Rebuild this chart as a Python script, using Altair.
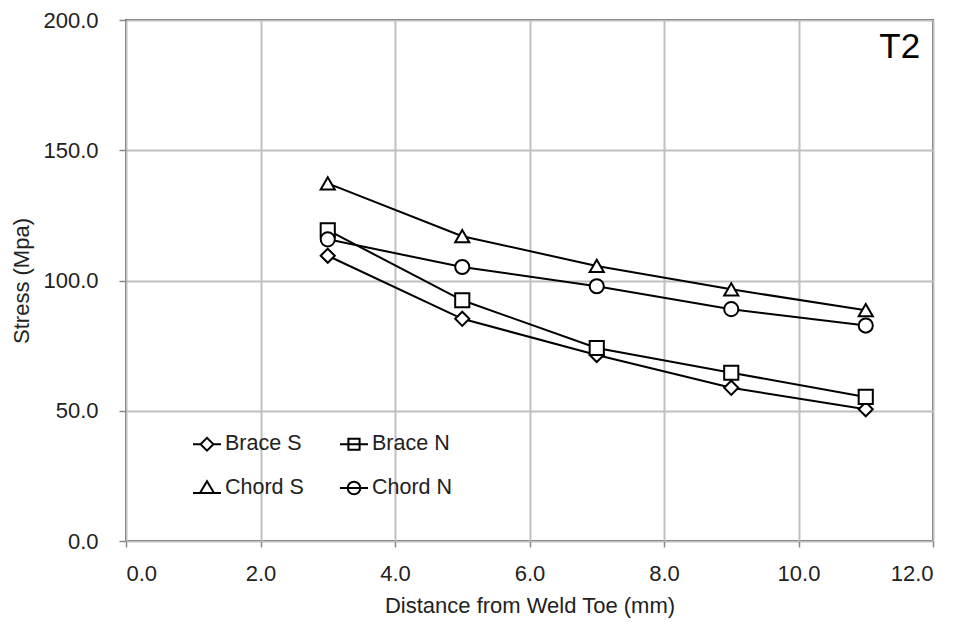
import altair as alt
import pandas as pd

distance = [3, 5, 7, 9, 11]
series_names = ["Brace S", "Brace N", "Chord S", "Chord N"]
brace_s = [109.5, 85.3, 71.4, 58.8, 50.6]
brace_n = [119.3, 92.4, 74.1, 64.6, 55.3]
chord_s = [137.3, 117.0, 105.6, 96.6, 88.6]
chord_n = [115.8, 105.2, 97.8, 89.0, 82.7]

x_ticks = [0, 2, 4, 6, 8, 10, 12]
y_ticks = [0, 50, 100, 150, 200]

values = {"Brace S": brace_s, "Brace N": brace_n, "Chord S": chord_s, "Chord N": chord_n}
rows = []
for name in series_names:
    for d, v in zip(distance, values[name]):
        rows.append({"distance": d, "stress": v, "series": name})
df = pd.DataFrame(rows)

FONT = "Liberation Sans"

plot_shapes = ["diamond", "square", "triangle-up", "circle"]
legend_shapes = [
    "M -1 0 L -0.46 0 M 0.46 0 L 1 0 M -0.46 0 L 0 -0.46 L 0.46 0 L 0 0.46 Z",
    "M -1 0 L 1 0 M -0.4 -0.4 L 0.4 -0.4 L 0.4 0.4 L -0.4 0.4 Z",
    "M -1 0.36 L 1 0.36 M 0 -0.48 L 0.5 0.36 L -0.5 0.36 Z",
    "M -1 0 L 1 0 M 0.45 0 A 0.45 0.45 0 1 1 -0.45 0 A 0.45 0.45 0 1 1 0.45 0 Z",
]

xs = alt.Scale(domain=[0, 12], nice=False)
ys = alt.Scale(domain=[0, 200], nice=False)

x_enc = alt.X("distance:Q", scale=xs, title="Distance from Weld Toe (mm)",
              axis=alt.Axis(values=x_ticks, format=".1f"))
y_enc = alt.Y("stress:Q", scale=ys, title="Stress (Mpa)",
              axis=alt.Axis(values=y_ticks, format=".1f"))

base = alt.Chart(df)

lines = base.mark_line(color="black", strokeWidth=2).encode(
    x=x_enc, y=y_enc, detail="series:N"
)

points = base.mark_point(filled=True, fill="white", stroke="black", strokeWidth=2, size=200, opacity=1).encode(
    x=x_enc, y=y_enc,
    shape=alt.Shape("series:N", scale=alt.Scale(domain=series_names, range=plot_shapes), legend=None),
)

# legend-only layer: no rows drawn, legend built from the explicit domain
legend_layer = base.transform_filter("datum.stress < 0").mark_point(
    filled=False, stroke="black", strokeWidth=2
).encode(
    x=x_enc, y=y_enc,
    shape=alt.Shape(
        "series:N",
        scale=alt.Scale(domain=series_names, range=legend_shapes),
        legend=alt.Legend(
            title=None, orient="none", legendX=66, legendY=409, columns=2, direction="horizontal",
            symbolSize=784, symbolStrokeColor="black", symbolFillColor="white", symbolOpacity=1,
            symbolStrokeWidth=2, labelFont=FONT, labelFontSize=21.5, labelColor="#222222",
            labelOffset=3, rowPadding=18, columnPadding=32, padding=0,
        ),
    ),
)

label_df = pd.DataFrame({"x": [11.81], "y": [185.6], "text": ["T2"]})
t2 = alt.Chart(label_df).mark_text(font=FONT, fontSize=35, align="right", baseline="alphabetic", color="black").encode(
    x=alt.X("x:Q", scale=xs), y=alt.Y("y:Q", scale=ys), text="text:N"
)

chart = alt.layer(lines, points, legend_layer, t2).resolve_scale(shape="independent").properties(
    width=807, height=521, padding={"left": 2, "top": 1, "right": 5, "bottom": 5}
).configure_view(stroke="#555555", strokeWidth=2).configure_axis(
    labelFont=FONT, titleFont=FONT, labelFontSize=22, titleFontSize=22,
    labelColor="#222222", titleColor="#222222", titleFontWeight="normal",
    gridColor="#c0c0c0", gridWidth=2, domain=False, tickColor="#888888",
    tickWidth=1.5,
).configure_axisX(labelPadding=16, titlePadding=11, tickSize=6).configure_axisY(
    labelPadding=21, titlePadding=9, tickSize=7
)

chart.save("out.html", embed_options={"renderer": "svg", "actions": False})
